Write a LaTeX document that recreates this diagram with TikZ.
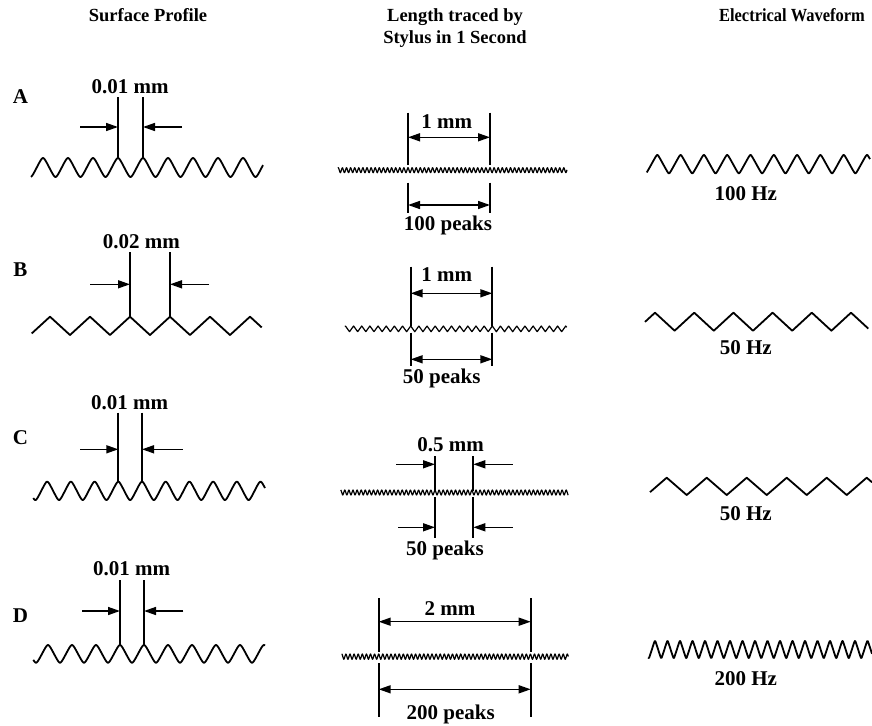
\documentclass[tikz,border=0pt]{standalone}
\usepackage{fontspec}
\setmainfont{Liberation Serif}
\usetikzlibrary{arrows.meta}
\tikzset{
 lab/.style={font=\bfseries\fontsize{21}{23}\selectfont, inner sep=0pt, anchor=base},
 ttl/.style={font=\bfseries\fontsize{18.5}{22}\selectfont, inner sep=0pt, anchor=base},
 dimline/.style={line width=1.7pt},
 dimarr/.style={line width=1.5pt, -{Triangle[length=12pt,width=8pt]}},
 dimboth/.style={line width=1.5pt, {Triangle[length=12pt,width=8pt]}-{Triangle[length=12pt,width=8pt]}},
 wave/.style={line width=1.8pt, line join=round},
 fine/.style={line width=1.2pt, line join=round},
}
% #1 samples, #2 xs, #3 xe, #4 peak x, #5 period, #6 peak y, #7 trough y, #8 sharpness, #9 style
\newcommand\wv[9][700]{\draw[#9] plot[domain=#2:#3, samples=#1] (\x,{(#6+#7)/2-(#7-#6)/2*asin(#8*cos(360/#5*mod(\x-#4,#5)))/asin(#8)});}
\begin{document}
\begin{tikzpicture}[x=1pt,y=-1pt]
\useasboundingbox (0,0) rectangle (872,725);
% titles
\node[ttl] (t1) at (148,22) {Surface Profile};
\node[ttl] (t2) at (455,22) {Length traced by};
\node[ttl] (t3) at (455,44) {Stylus in 1 Second};
\node[ttl] (t4) at (792,22) {\scalebox{0.89}[1]{Electrical Waveform}};
% row labels
\node[lab] (rA) at (20.5,103.3) {A};
\node[lab] (rB) at (20.5,276.7) {B};
\node[lab] (rC) at (20.5,444) {C};
\node[lab] (rD) at (20.5,622.3) {D};

% ===== Row A =====
\node[lab] (aL) at (130,93.3) {0.01 mm};
\draw[dimline] (118,97) -- (118,158) (143,97) -- (143,158);
\draw[dimarr] (80,127) -- (118,127);
\draw[dimarr] (182,127) -- (143,127);
\wv{31}{263}{43}{25}{158}{177}{0.9}{wave}
\node[lab] (aM) at (446.7,128.3) {1 mm};
\draw[dimline] (408,112.7) -- (408,165) (490,112.7) -- (490,165)
               (408,182.7) -- (408,213) (490,182.7) -- (490,213);
\draw[dimboth] (408,137.3) -- (490,137.3);
\draw[dimboth] (408,205) -- (490,205);
\wv[900]{338}{567}{408}{4.1}{167.7}{172.7}{0.9}{fine}
\node[lab] (aP) at (448,230.5) {100 peaks};
\wv{646.7}{870}{657.3}{23.3}{155}{173.3}{0.97}{wave}
\node[lab] (aH) at (745.7,200) {100 Hz};

% ===== Row B =====
\node[lab] (bL) at (141.3,248.3) {0.02 mm};
\draw[dimline] (130,252.3) -- (130,316.7) (170,252.3) -- (170,316.7);
\draw[dimarr] (90,284.3) -- (130,284.3);
\draw[dimarr] (209,284.3) -- (170,284.3);
\wv{31.7}{261.7}{50}{40}{316.7}{335}{0.9999}{wave}
\node[lab] (bM) at (446.7,281.7) {1 mm};
\draw[dimline] (410.7,266.7) -- (410.7,326) (492.3,266.7) -- (492.3,326)
               (410.7,332.7) -- (410.7,366) (492.3,332.7) -- (492.3,366);
\draw[dimboth] (410.7,293.3) -- (492.3,293.3);
\draw[dimboth] (410.7,359.3) -- (492.3,359.3);
\wv[900]{345}{566.7}{410.7}{8.16}{326}{331.7}{0.9999}{fine}
\node[lab] (bP) at (441.7,383) {50 peaks};
\wv{645}{868.3}{655}{39.2}{312.7}{330.7}{0.9999}{wave}
\node[lab] (bH) at (745.7,354) {50 Hz};

% ===== Row C =====
\node[lab] (cL) at (129.5,409.3) {0.01 mm};
\draw[dimline] (118.3,412.7) -- (118.3,481.7) (142,412.7) -- (142,481.7);
\draw[dimarr] (80,449.3) -- (118.3,449.3);
\draw[dimarr] (182.7,449.3) -- (142,449.3);
\wv{33.3}{265}{118.3}{23.7}{481.7}{500}{0.9}{wave}
\node[lab] (cM) at (450.7,451.7) {0.5 mm};
\draw[dimline] (435,456) -- (435,491) (473.3,456) -- (473.3,491)
               (435,497) -- (435,538.3) (473.3,497) -- (473.3,538.3);
\draw[dimarr] (396,464.3) -- (435,464.3);
\draw[dimarr] (512.7,464.3) -- (473.3,464.3);
\draw[dimarr] (398.3,527.3) -- (435,527.3);
\draw[dimarr] (512.7,527.3) -- (473.3,527.3);
\wv[900]{340.7}{568.3}{435}{4.1}{490}{495}{0.9}{fine}
\node[lab] (cP) at (445,555.5) {50 peaks};
\wv{650}{872}{666.7}{40}{477.7}{495}{0.9999}{wave}
\node[lab] (cH) at (745.7,520) {50 Hz};

% ===== Row D =====
\node[lab] (dL) at (131.7,575) {0.01 mm};
\draw[dimline] (120,580) -- (120,645) (144,580) -- (144,645);
\draw[dimarr] (82.3,611) -- (120,611);
\draw[dimarr] (183.3,611) -- (144,611);
\wv{33.3}{265}{48}{24}{645}{662.7}{0.9}{wave}
\node[lab] (dM) at (450,615) {2 mm};
\draw[dimline] (378.7,598.3) -- (378.7,651.7) (530.7,598.3) -- (530.7,651.7)
               (378.7,663.3) -- (378.7,716.7) (530.7,663.3) -- (530.7,716.7);
\draw[dimboth] (378.7,621.7) -- (530.7,621.7);
\draw[dimboth] (378.7,689.3) -- (530.7,689.3);
\wv[900]{341.7}{568.3}{378.7}{4.1}{654}{659.3}{0.9}{fine}
\node[lab] (dP) at (450.7,719.3) {200 peaks};
\wv[900]{648.3}{872}{655}{12.5}{641}{658}{0.97}{wave}
\node[lab] (dH) at (745.7,685.7) {200 Hz};
\end{tikzpicture}
\end{document}
